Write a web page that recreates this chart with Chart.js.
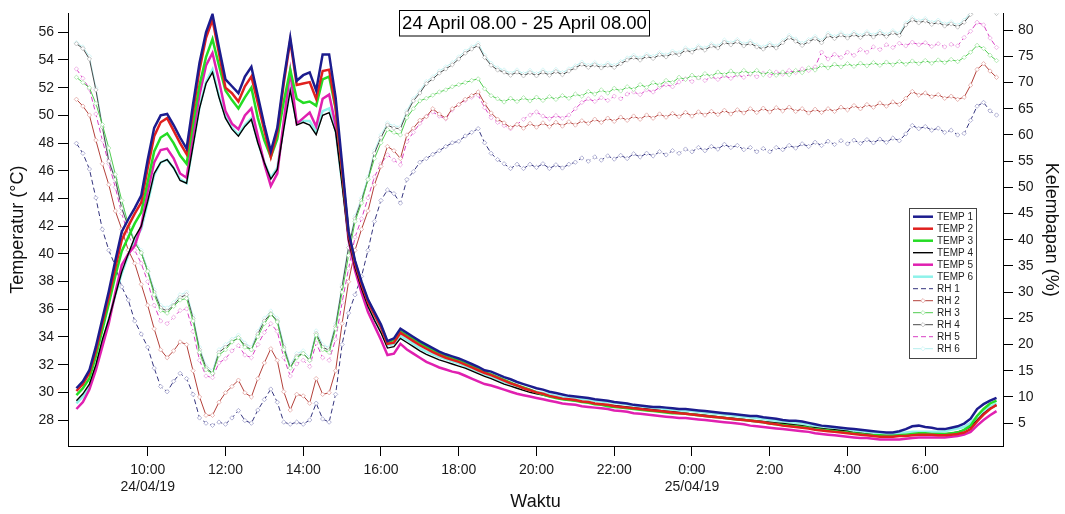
<!DOCTYPE html>
<html>
<head>
<meta charset="utf-8">
<script src="https://cdn.jsdelivr.net/npm/chart.js@4.4.1/dist/chart.umd.min.js"></script>
<style>
  html, body { margin: 0; padding: 0; background: #fff; }
</style>
</head>
<body>
<canvas id="chart" width="1065" height="514"></canvas>
<script>
// logger samples every 10 min, 24/04 08:10 -> 25/04 07:50 (one row per hour)
const temp1 = [30.3, 30.8, 31.6, 33.3, 35.3,
  37.3, 39.5, 41.6, 42.5, 43.3, 44.2,
  46.8, 49.1, 50.0, 50.1, 49.3, 48.4,
  47.6, 50.8, 53.8, 56.0, 57.3, 54.9,
  52.6, 52.1, 51.6, 52.8, 53.5, 51.4,
  49.3, 47.4, 49.1, 52.6, 55.6, 52.5,
  52.9, 53.1, 51.8, 54.4, 54.4, 51.3,
  46.5, 41.6, 39.5, 38.0, 36.7, 35.8,
  34.9, 33.7, 33.9, 34.6, 34.3, 34.0,
  33.7, 33.45, 33.2, 32.95, 32.75, 32.6,
  32.45, 32.25, 32.05, 31.85, 31.6, 31.5,
  31.3, 31.1, 30.95, 30.75, 30.6, 30.45,
  30.3, 30.2, 30.05, 29.95, 29.85, 29.75,
  29.7, 29.65, 29.6, 29.5, 29.45, 29.4,
  29.3, 29.25, 29.2, 29.1, 29.05, 29.0,
  28.95, 28.95, 28.9, 28.85, 28.8, 28.8,
  28.75, 28.7, 28.65, 28.6, 28.55, 28.5,
  28.45, 28.4, 28.35, 28.3, 28.3, 28.2,
  28.15, 28.1, 28.0, 27.95, 27.95, 27.9,
  27.8, 27.7, 27.6, 27.55, 27.5, 27.45,
  27.4, 27.35, 27.3, 27.25, 27.2, 27.15,
  27.1, 27.1, 27.2, 27.35, 27.55, 27.6,
  27.5, 27.45, 27.35, 27.35, 27.45, 27.55,
  27.75, 28.1, 28.8, 29.15, 29.4, 29.6];

const temp2 = [30.1, 30.6, 31.4, 33.0, 35.0,
  36.9, 39.0, 41.0, 42.0, 42.9, 43.7,
  46.2, 48.5, 49.5, 49.8, 48.9, 48.0,
  47.2, 50.3, 53.3, 55.6, 56.9, 54.5,
  52.0, 51.6, 51.0, 52.1, 52.8, 50.9,
  48.9, 47.0, 48.8, 52.3, 55.4, 52.2,
  52.3, 52.4, 51.2, 53.2, 53.3, 50.6,
  46.0, 41.4, 39.3, 37.8, 36.5, 35.6,
  34.7, 33.5, 33.6, 34.3, 34.0, 33.7,
  33.4, 33.15, 32.9, 32.7, 32.5, 32.35,
  32.2, 32.0, 31.8, 31.6, 31.4, 31.25,
  31.05, 30.85, 30.65, 30.5, 30.3, 30.15,
  30.0, 29.9, 29.75, 29.65, 29.55, 29.5,
  29.45, 29.35, 29.3, 29.2, 29.15, 29.1,
  29.0, 28.95, 28.9, 28.85, 28.8, 28.75,
  28.7, 28.65, 28.6, 28.55, 28.5, 28.45,
  28.4, 28.35, 28.3, 28.25, 28.2, 28.15,
  28.1, 28.05, 28.0, 27.95, 27.9, 27.85,
  27.75, 27.7, 27.6, 27.55, 27.5, 27.45,
  27.4, 27.3, 27.25, 27.2, 27.15, 27.1,
  27.05, 27.0, 26.95, 26.9, 26.85, 26.8,
  26.8, 26.8, 26.85, 26.85, 26.9, 26.95,
  26.95, 26.95, 26.9, 26.9, 26.95, 27.0,
  27.1, 27.35, 27.9, 28.4, 28.8, 29.1];

const temp3 = [29.8, 30.3, 31.0, 32.6, 34.5,
  36.4, 38.4, 40.2, 41.2, 42.2, 43.0,
  45.2, 47.4, 48.4, 48.7, 48.0, 47.1,
  46.5, 49.4, 52.2, 54.2, 55.5, 53.6,
  51.8, 51.1, 50.5, 51.3, 52.0, 49.8,
  48.2, 47.0, 48.3, 51.0, 53.3, 51.2,
  50.9, 51.0, 50.7, 52.6, 52.8, 50.5,
  46.0, 41.5, 39.4, 37.9, 36.6, 35.7,
  34.8, 33.6, 33.8, 34.4, 34.1, 33.85,
  33.55, 33.3, 33.05, 32.8, 32.6, 32.45,
  32.3, 32.1, 31.9, 31.7, 31.45, 31.3,
  31.1, 30.9, 30.7, 30.5, 30.35, 30.2,
  30.0, 29.85, 29.7, 29.6, 29.5, 29.45,
  29.4, 29.3, 29.25, 29.15, 29.1, 29.0,
  28.95, 28.9, 28.85, 28.8, 28.75, 28.7,
  28.65, 28.6, 28.55, 28.5, 28.5, 28.45,
  28.4, 28.35, 28.3, 28.25, 28.2, 28.15,
  28.1, 28.05, 28.0, 27.95, 27.9, 27.85,
  27.75, 27.7, 27.65, 27.6, 27.55, 27.5,
  27.45, 27.35, 27.3, 27.25, 27.2, 27.15,
  27.1, 27.05, 27.0, 26.95, 26.9, 26.9,
  26.85, 26.85, 26.9, 26.95, 27.0, 27.05,
  27.05, 27.0, 27.0, 27.0, 27.05, 27.1,
  27.3, 27.6, 28.3, 28.8, 29.2, 29.4];

const temp4 = [29.4, 29.9, 30.6, 32.0, 33.8,
  35.3, 37.0, 38.7, 40.0, 41.2, 42.0,
  43.8, 45.8, 46.6, 46.8, 46.2, 45.3,
  45.1, 47.8, 50.5, 52.3, 53.1, 51.3,
  49.8, 49.0, 48.5, 49.2, 49.7, 48.0,
  46.6, 45.4, 46.1, 49.0, 51.8, 49.3,
  49.5, 49.3, 48.6, 50.0, 50.2, 48.8,
  45.0, 41.0, 39.0, 37.5, 36.2, 35.2,
  34.3, 33.2, 33.3, 33.9, 33.6, 33.3,
  33.0, 32.75, 32.55, 32.35, 32.2, 32.05,
  31.9, 31.75, 31.55, 31.35, 31.15, 31.0,
  30.8, 30.6, 30.45, 30.3, 30.15, 30.0,
  29.9, 29.8, 29.7, 29.6, 29.5, 29.45,
  29.4, 29.35, 29.3, 29.2, 29.15, 29.1,
  29.05, 29.0, 28.95, 28.9, 28.85, 28.8,
  28.75, 28.7, 28.65, 28.6, 28.55, 28.5,
  28.45, 28.4, 28.35, 28.3, 28.25, 28.2,
  28.15, 28.1, 28.05, 28.0, 27.95, 27.9,
  27.85, 27.8, 27.75, 27.7, 27.65, 27.6,
  27.5, 27.45, 27.4, 27.35, 27.3, 27.25,
  27.2, 27.1, 27.05, 27.0, 26.95, 26.9,
  26.9, 26.9, 26.9, 26.95, 26.95, 27.0,
  27.0, 27.0, 27.0, 27.0, 27.05, 27.15,
  27.3, 27.5, 28.0, 28.5, 28.85, 29.05];

const temp5 = [28.8, 29.3, 30.2, 31.6, 33.3,
  35.0, 37.2, 39.2, 40.0, 40.6, 42.0,
  44.5, 46.6, 47.5, 47.6, 46.9, 45.8,
  45.5, 48.6, 51.5, 53.6, 54.5, 52.5,
  50.3, 49.4, 49.0, 50.0, 50.5, 48.5,
  46.5, 44.9, 45.8, 49.6, 53.2, 49.4,
  49.8, 50.2, 49.2, 51.2, 51.5, 49.3,
  45.5, 41.0, 38.8, 37.2, 35.8, 34.8,
  33.8, 32.7, 32.8, 33.5, 33.1, 32.8,
  32.5, 32.2, 32.0, 31.8, 31.65, 31.5,
  31.4, 31.2, 31.0, 30.8, 30.6, 30.5,
  30.35, 30.2, 30.05, 29.9, 29.8, 29.7,
  29.6, 29.5, 29.4, 29.3, 29.2, 29.15,
  29.1, 29.0, 28.95, 28.9, 28.85, 28.8,
  28.7, 28.65, 28.6, 28.5, 28.45, 28.4,
  28.35, 28.3, 28.25, 28.2, 28.15, 28.15,
  28.1, 28.05, 28.0, 27.95, 27.9, 27.85,
  27.8, 27.75, 27.7, 27.6, 27.55, 27.5,
  27.45, 27.4, 27.35, 27.3, 27.25, 27.2,
  27.15, 27.05, 27.0, 26.95, 26.9, 26.85,
  26.8, 26.75, 26.7, 26.7, 26.65, 26.6,
  26.6, 26.6, 26.6, 26.65, 26.7, 26.75,
  26.75, 26.75, 26.75, 26.75, 26.8, 26.85,
  26.95, 27.15, 27.6, 28.0, 28.35, 28.65];

const temp6 = [29.2, 29.7, 30.4, 31.8, 33.5,
  35.3, 37.0, 38.6, 39.9, 41.0, 41.8,
  43.7, 45.7, 46.6, 46.8, 46.2, 45.4,
  45.1, 47.9, 50.6, 52.4, 53.3, 51.4,
  49.9, 49.1, 48.6, 49.3, 49.8, 48.1,
  46.6, 45.5, 46.2, 49.2, 51.9, 49.5,
  49.6, 49.6, 48.8, 50.3, 50.5, 48.9,
  45.1, 41.1, 39.1, 37.6, 36.3, 35.4,
  34.5, 33.4, 33.5, 34.1, 33.8, 33.5,
  33.2, 32.95, 32.75, 32.55, 32.4, 32.25,
  32.1, 31.9, 31.7, 31.5, 31.3, 31.15,
  30.95, 30.75, 30.6, 30.45, 30.3, 30.15,
  30.05, 29.95, 29.85, 29.75, 29.65, 29.6,
  29.55, 29.5, 29.45, 29.4, 29.35, 29.3,
  29.25, 29.2, 29.15, 29.05, 29.0, 28.95,
  28.9, 28.85, 28.8, 28.75, 28.7, 28.7,
  28.65, 28.6, 28.55, 28.5, 28.45, 28.4,
  28.35, 28.3, 28.25, 28.2, 28.15, 28.1,
  28.0, 27.95, 27.9, 27.85, 27.8, 27.75,
  27.65, 27.6, 27.55, 27.5, 27.45, 27.4,
  27.3, 27.25, 27.2, 27.15, 27.1, 27.05,
  27.05, 27.0, 27.05, 27.1, 27.15, 27.15,
  27.15, 27.15, 27.15, 27.2, 27.3, 27.4,
  27.5, 27.8, 28.3, 28.7, 29.0, 29.2];

const rh1 = [58.4, 56.5, 53.5, 48.0, 42.0,
  38.0, 35.0, 31.0, 28.5, 24.5, 22.0,
  19.5, 15.5, 12.0, 11.0, 13.0, 14.5,
  13.5, 10.5, 6.0, 5.0, 4.6, 5.2,
  4.8, 6.0, 7.4, 5.5, 5.0, 7.5,
  9.5, 11.5, 9.0, 5.2, 4.8, 5.2,
  4.8, 5.6, 8.8, 5.8, 5.2, 10.5,
  20.0, 26.0, 29.5, 33.0, 38.0, 43.5,
  47.5, 49.5, 48.8, 47.0, 51.5, 53.0,
  54.8, 55.5, 56.3, 57.0, 57.8, 58.5,
  58.8, 59.8, 60.5, 61.2, 58.5, 56.5,
  55.3, 54.5, 53.6, 54.4, 53.6, 54.4,
  53.8, 54.5, 53.6, 54.3, 53.7, 54.4,
  54.8, 55.6, 55.0, 55.8, 55.2, 56.0,
  55.4, 56.1, 55.5, 56.4, 55.8, 56.5,
  56.0, 56.8, 56.2, 57.0, 56.5, 57.3,
  56.8, 57.6, 57.0, 57.8, 57.3, 58.2,
  57.6, 58.0, 57.2, 57.6, 56.8, 57.4,
  56.8, 57.6, 57.2, 58.0, 57.5, 58.3,
  57.8, 58.6, 58.0, 58.8, 58.2, 58.9,
  58.3, 59.0, 58.4, 59.1, 58.5, 59.2,
  58.6, 59.4, 58.9, 60.2, 61.8, 61.2,
  61.6, 60.9, 61.3, 60.5, 60.9, 60.0,
  60.3, 62.8, 65.5, 66.2, 64.6, 63.8];

const rh2 = [66.8, 65.5, 63.8, 59.0, 54.5,
  50.5, 45.5, 42.0, 38.0, 35.5, 31.5,
  27.5, 23.0, 19.0, 17.5, 18.8, 20.5,
  20.0, 15.0, 10.0, 6.5, 6.5, 9.0,
  10.8, 12.0, 13.2, 10.8, 10.0, 13.5,
  16.5, 19.2, 17.0, 11.0, 7.5, 10.5,
  10.2, 8.8, 13.5, 10.5, 10.8, 15.0,
  24.0, 32.0, 38.0, 42.0, 45.5, 50.5,
  54.0, 57.8, 57.0, 55.5, 60.0, 61.3,
  62.8, 63.5, 65.0, 64.0, 63.2, 65.0,
  65.8, 66.8, 67.5, 68.2, 66.0, 64.2,
  63.0, 62.3, 61.4, 62.0, 61.3, 62.2,
  61.5, 62.3, 61.6, 62.4, 61.7, 62.5,
  61.9, 62.7, 62.2, 63.0, 62.4, 63.2,
  62.6, 63.4, 62.8, 63.6, 63.0, 63.8,
  63.2, 64.0, 63.4, 64.1, 63.5, 64.3,
  63.6, 64.4, 63.8, 64.5, 63.9, 64.7,
  64.0, 64.8, 64.2, 65.0, 64.3, 65.1,
  64.4, 65.2, 64.6, 65.3, 64.5, 65.0,
  64.2, 64.9, 64.3, 65.0, 64.5, 65.3,
  64.8, 65.6, 65.0, 65.8, 65.3, 66.1,
  65.5, 66.3, 65.8, 67.0, 68.3, 67.6,
  68.0, 67.3, 67.7, 67.0, 67.4, 66.8,
  67.2, 69.5, 72.5, 73.6, 72.2, 71.0];

const rh3 = [71.0, 70.0, 69.0, 66.0, 62.0,
  57.5, 52.5, 47.5, 43.0, 39.5, 37.5,
  34.0, 29.5, 26.5, 26.0, 27.3, 28.5,
  28.8, 24.5, 18.5, 15.2, 14.5, 18.0,
  19.0, 20.5, 21.3, 19.5, 19.0, 21.5,
  24.0, 25.8, 24.3, 19.0, 15.5, 17.5,
  18.3, 17.0, 21.8, 19.0, 18.5, 23.0,
  30.0, 37.0, 43.5, 47.0, 51.5, 55.5,
  58.5, 61.0, 60.5, 60.0, 63.3, 65.0,
  66.5, 67.0, 67.6, 68.2, 68.6, 69.2,
  69.6, 70.0, 70.4, 70.7, 68.8, 67.5,
  66.9, 66.3, 67.0, 66.4, 67.1, 66.5,
  67.2, 66.6, 67.3, 66.8, 67.5, 67.0,
  67.8, 67.4, 68.3, 67.8, 68.6, 68.0,
  68.9, 68.4, 69.2, 68.7, 69.6, 69.1,
  70.0, 69.5, 70.4, 70.0, 71.0, 70.6,
  71.4, 70.9, 71.7, 71.2, 72.0, 71.5,
  72.2, 71.6, 72.3, 71.7, 72.3, 71.5,
  72.1, 71.4, 72.0, 71.5, 72.3, 71.9,
  72.8, 72.4, 73.3, 72.8, 73.5, 73.0,
  73.6, 73.1, 73.7, 73.2, 73.8, 73.3,
  73.9, 73.4, 74.0, 73.5, 74.1, 73.6,
  74.2, 73.7, 74.3, 73.8, 74.4, 74.0,
  74.8, 75.8, 77.1, 76.5, 75.2, 74.2];

const rh4 = [77.4, 76.5, 74.5, 68.6, 61.5,
  55.0, 51.5, 46.0, 42.5, 39.5, 37.5,
  34.0, 30.0, 27.0, 26.4, 27.5, 29.0,
  29.5, 25.0, 19.0, 15.6, 14.5, 18.5,
  19.5, 20.5, 21.3, 19.8, 19.0, 22.0,
  24.5, 25.9, 24.5, 19.5, 15.6, 17.8,
  18.3, 17.0, 22.1, 19.5, 18.9, 23.5,
  31.0, 38.5, 44.0, 47.5, 51.5, 56.5,
  59.5, 61.9, 61.3, 61.2, 64.2, 66.5,
  68.0, 69.8, 70.7, 71.8, 72.6, 73.4,
  74.5, 75.6, 76.4, 77.1, 74.8, 73.3,
  72.4, 72.0, 71.4, 72.0, 71.3, 71.9,
  71.3, 72.0, 71.4, 72.1, 71.5, 72.2,
  72.8, 73.5, 72.9, 73.4, 72.8, 73.3,
  72.9, 73.6, 74.3, 74.8, 74.3, 75.0,
  74.6, 75.3, 74.9, 75.6, 75.3, 76.2,
  75.8, 76.6, 76.2, 77.0, 76.6, 77.7,
  77.2, 77.8, 77.0, 77.5, 76.8, 76.4,
  77.1, 76.6, 77.6, 78.6, 77.9, 77.1,
  77.8, 78.4, 77.6, 79.0, 78.4, 79.1,
  78.5, 79.2, 78.6, 79.3, 78.7, 79.4,
  78.8, 79.5, 79.0, 81.0, 82.0, 81.4,
  81.8, 81.1, 81.5, 80.8, 81.2, 80.6,
  81.5, 83.0, 84.0, 84.5, 84.0, 83.2];

const rh5 = [72.6, 70.8, 68.8, 64.0, 59.0,
  54.5, 50.0, 45.0, 41.0, 38.0, 35.5,
  32.0, 27.5, 24.5, 24.0, 25.2, 26.5,
  26.8, 22.5, 17.0, 14.0, 13.7, 16.5,
  17.3, 18.8, 19.8, 18.0, 17.5, 20.0,
  22.3, 24.0, 22.5, 17.5, 14.0, 16.3,
  17.0, 15.8, 20.3, 17.5, 17.0, 21.0,
  28.0, 34.5, 40.5, 44.0, 48.0, 52.0,
  54.5, 56.2, 55.2, 54.3, 58.7, 60.5,
  62.2, 63.5, 64.4, 63.6, 63.1, 64.8,
  65.8, 66.6, 67.2, 67.6, 65.2, 63.3,
  62.4, 61.8, 61.2, 62.0, 63.0, 63.8,
  64.4, 63.6, 63.1, 63.7, 63.2, 63.8,
  65.0, 66.2, 66.9, 66.4, 67.1, 66.6,
  67.4, 66.9, 67.8, 68.2, 67.7, 68.6,
  68.2, 69.1, 69.6, 69.2, 70.1, 70.7,
  70.2, 70.9, 70.4, 71.1, 70.6, 71.3,
  70.8, 71.5, 71.0, 71.6, 71.1, 71.8,
  71.3, 72.0, 71.6, 72.3, 71.9, 72.6,
  72.3, 73.0, 75.8, 74.5, 75.4, 74.8,
  75.8, 75.2, 76.3, 75.8, 76.8, 76.3,
  77.2, 76.7, 77.5, 77.0, 77.7, 77.2,
  77.6, 76.9, 77.4, 76.8, 77.3, 77.0,
  78.6, 79.8, 81.5, 81.0, 78.5, 76.7];

const rh6 = [77.6, 76.8, 75.0, 69.0, 62.0,
  55.5, 51.8, 46.5, 43.0, 40.0, 38.0,
  34.5, 30.5, 27.5, 27.0, 28.0, 29.5,
  30.0, 25.5, 19.5, 16.0, 15.0, 19.0,
  20.0, 21.0, 21.8, 20.3, 19.5, 22.5,
  25.0, 26.4, 25.0, 20.0, 16.1, 18.3,
  18.8, 17.5, 22.6, 20.0, 19.4, 24.0,
  31.5, 39.0, 44.5, 48.0, 52.0, 57.0,
  60.0, 62.3, 61.7, 61.6, 64.6, 66.9,
  68.4, 70.2, 71.1, 72.2, 73.0, 73.8,
  74.9, 76.0, 76.8, 77.5, 75.2, 73.7,
  72.8, 72.4, 71.8, 72.4, 71.7, 72.3,
  71.7, 72.4, 71.8, 72.5, 71.9, 72.6,
  73.2, 73.9, 73.3, 73.8, 73.2, 73.7,
  73.3, 74.0, 74.7, 75.2, 74.7, 75.4,
  75.0, 75.7, 75.3, 76.0, 75.7, 76.6,
  76.2, 77.0, 76.6, 77.4, 77.0, 78.1,
  77.6, 78.2, 77.4, 77.9, 77.2, 76.8,
  77.5, 77.0, 78.0, 79.0, 78.3, 77.5,
  78.2, 78.8, 78.0, 79.4, 78.8, 79.5,
  78.9, 79.6, 79.0, 79.7, 79.1, 79.8,
  79.2, 79.9, 79.4, 81.4, 82.4, 81.8,
  82.2, 81.5, 81.9, 81.2, 81.6, 81.0,
  81.9, 83.4, 84.4, 84.9, 84.4, 83.3];

const tempNames = ['TEMP 1', 'TEMP 2', 'TEMP 3', 'TEMP 4', 'TEMP 5', 'TEMP 6'];
const rhNames = ['RH 1', 'RH 2', 'RH 3', 'RH 4', 'RH 5', 'RH 6'];

const tempTicks = [28, 30, 32, 34, 36, 38, 40, 42, 44, 46, 48, 50, 52, 54, 56];
const rhTicks = [5, 10, 15, 20, 25, 30, 35, 40, 45, 50, 55, 60, 65, 70, 75, 80];
const hourTicks = [10, 12, 14, 16, 18, 20, 22, 24, 26, 28, 30];
const hourTickLabels = [['10:00', '24/04/19'], '12:00', '14:00', '16:00', '18:00', '20:00', '22:00',
  ['0:00', '25/04/19'], '2:00', '4:00', '6:00'];

// sample clock: hours since 24/04 00:00
const firstSample = 8 + 10 / 60;
const sampleStep = 10 / 60;
const hours = temp1.map((_, i) => firstSample + i * sampleStep);

const tempColors = ['#1c1c8e', '#e0201e', '#24dc24', '#000000', '#e020b0', '#8ef2ea'];
const tempWidths = [2.5, 2.5, 2.5, 1.4, 2.5, 2.5];
const rhColors = ['#34347e', '#b3403a', '#4fcc4f', '#4a4a4a', '#d840c4', '#b6eeee'];
const rhMarkers = ['#a2a2cc', '#e2a4a2', '#a6e6a6', '#b8b8b8', '#eca6e2', '#cdf5f5'];
const rhDash = [[5, 3], [], [], [], [5, 3], []];

const tempSeries = [temp1, temp2, temp3, temp4, temp5, temp6];
const rhSeries = [rh1, rh2, rh3, rh4, rh5, rh6];

const toPoints = (vals) => vals.map((v, i) => ({ x: hours[i], y: v }));

const datasets = [];
tempSeries.forEach((vals, i) => {
    datasets.push({
        label: tempNames[i],
        data: toPoints(vals),
        yAxisID: 'y',
        borderColor: tempColors[i],
        borderWidth: tempWidths[i],
        pointRadius: 0,
        tension: 0,
        legendMarker: false
    });
});
rhSeries.forEach((vals, i) => {
    datasets.push({
        label: rhNames[i],
        data: toPoints(vals),
        yAxisID: 'y1',
        borderColor: rhColors[i],
        borderWidth: 1,
        borderDash: rhDash[i],
        pointRadius: 2.2,
        pointStyle: 'rectRot',
        pointBackgroundColor: '#ffffff',
        pointBorderColor: rhMarkers[i],
        pointBorderWidth: 0.8,
        tension: 0,
        legendMarker: rhDash[i].length === 0
    });
});

// boxed caption at the top of the plot
const captionBox = {
    id: 'captionBox',
    afterDraw(chart) {
        const ctx = chart.ctx;
        ctx.save();
        ctx.fillStyle = '#fff';
        ctx.fillRect(399, 10, 250, 26);
        ctx.strokeStyle = '#000';
        ctx.lineWidth = 1;
        ctx.strokeRect(399.5, 10.5, 250, 25.5);
        ctx.fillStyle = '#000';
        ctx.font = '18.5px "Liberation Sans", Arial, sans-serif';
        ctx.textAlign = 'center';
        ctx.textBaseline = 'middle';
        ctx.fillText('24 April 08.00 - 25 April 08.00', 524.5, 24);
        ctx.restore();
    }
};

// legend box inside the plot, right side
const legendBox = {
    id: 'legendBox',
    afterDraw(chart) {
        const ctx = chart.ctx;
        const sets = chart.data.datasets;
        const x0 = 909, y0 = 208, w = 67, rowH = 12;
        const h = sets.length * rowH + 6;
        ctx.save();
        ctx.fillStyle = '#fff';
        ctx.fillRect(x0, y0, w, h);
        ctx.strokeStyle = '#444';
        ctx.lineWidth = 1;
        ctx.strokeRect(x0 + 0.5, y0 + 0.5, w, h);
        ctx.font = '10px "Liberation Sans", Arial, sans-serif';
        ctx.textBaseline = 'middle';
        ctx.textAlign = 'left';
        sets.forEach((ds, i) => {
            const y = y0 + 8.7 + i * rowH;
            ctx.strokeStyle = ds.borderColor;
            ctx.lineWidth = ds.borderWidth;
            ctx.setLineDash(ds.borderDash || []);
            ctx.beginPath();
            ctx.moveTo(x0 + 4, y);
            ctx.lineTo(x0 + 24, y);
            ctx.stroke();
            ctx.setLineDash([]);
            if (ds.legendMarker) {
                ctx.fillStyle = '#fff';
                ctx.strokeStyle = ds.pointBorderColor;
                ctx.lineWidth = 0.8;
                ctx.beginPath();
                ctx.moveTo(x0 + 14, y - 2.2);
                ctx.lineTo(x0 + 16.2, y);
                ctx.lineTo(x0 + 14, y + 2.2);
                ctx.lineTo(x0 + 11.8, y);
                ctx.closePath();
                ctx.fill();
                ctx.stroke();
            }
            ctx.fillStyle = '#222';
            ctx.fillText(ds.label, x0 + 28, y + 0.5);
        });
        ctx.restore();
    }
};

Chart.defaults.font.family = '"Liberation Sans", Arial, sans-serif';
Chart.defaults.color = '#1a1a1a';

const axisLine = { display: true, color: '#000', width: 1 };
const tickMarks = { drawOnChartArea: false, tickLength: 10, color: '#000', lineWidth: 1 };

new Chart(document.getElementById('chart'), {
    type: 'line',
    data: { datasets: datasets },
    options: {
        responsive: false,
        devicePixelRatio: 1,
        animation: false,
        events: [],
        layout: { padding: { top: 11 } },
        plugins: {
            legend: { display: false },
            tooltip: { enabled: false }
        },
        scales: {
            x: {
                type: 'linear',
                position: 'bottom',
                min: 7.95,
                max: 32.0,
                border: axisLine,
                grid: tickMarks,
                afterBuildTicks: (s) => { s.ticks = hourTicks.map(v => ({ value: v })); },
                afterFit: (s) => { s.height = 68; },
                ticks: {
                    autoSkip: false,
                    maxRotation: 0,
                    padding: 6,
                    font: { size: 14 },
                    callback: (v) => hourTickLabels[hourTicks.indexOf(v)]
                },
                title: { display: true, text: 'Waktu', font: { size: 18 }, color: '#111', padding: { top: 0, bottom: 1 } }
            },
            y: {
                position: 'left',
                min: 26.13,
                max: 57.36,
                border: axisLine,
                grid: tickMarks,
                afterBuildTicks: (s) => { s.ticks = tempTicks.map(v => ({ value: v })); },
                afterFit: (s) => { s.width = 68; },
                ticks: { padding: 4, font: { size: 14 } },
                title: { display: true, text: 'Temperatur (°C)', font: { size: 18 }, color: '#111', padding: { top: 7, bottom: 0 } }
            },
            y1: {
                position: 'right',
                min: 0.64,
                max: 83.2,
                border: axisLine,
                grid: tickMarks,
                afterBuildTicks: (s) => { s.ticks = rhTicks.map(v => ({ value: v })); },
                afterFit: (s) => { s.width = 62; },
                ticks: { padding: 5, font: { size: 14 } },
                title: { display: true, text: 'Kelembapan (%)', font: { size: 18 }, color: '#111', padding: { top: 3, bottom: 0 } }
            }
        }
    },
    plugins: [captionBox, legendBox]
});
</script>
</body>
</html>
